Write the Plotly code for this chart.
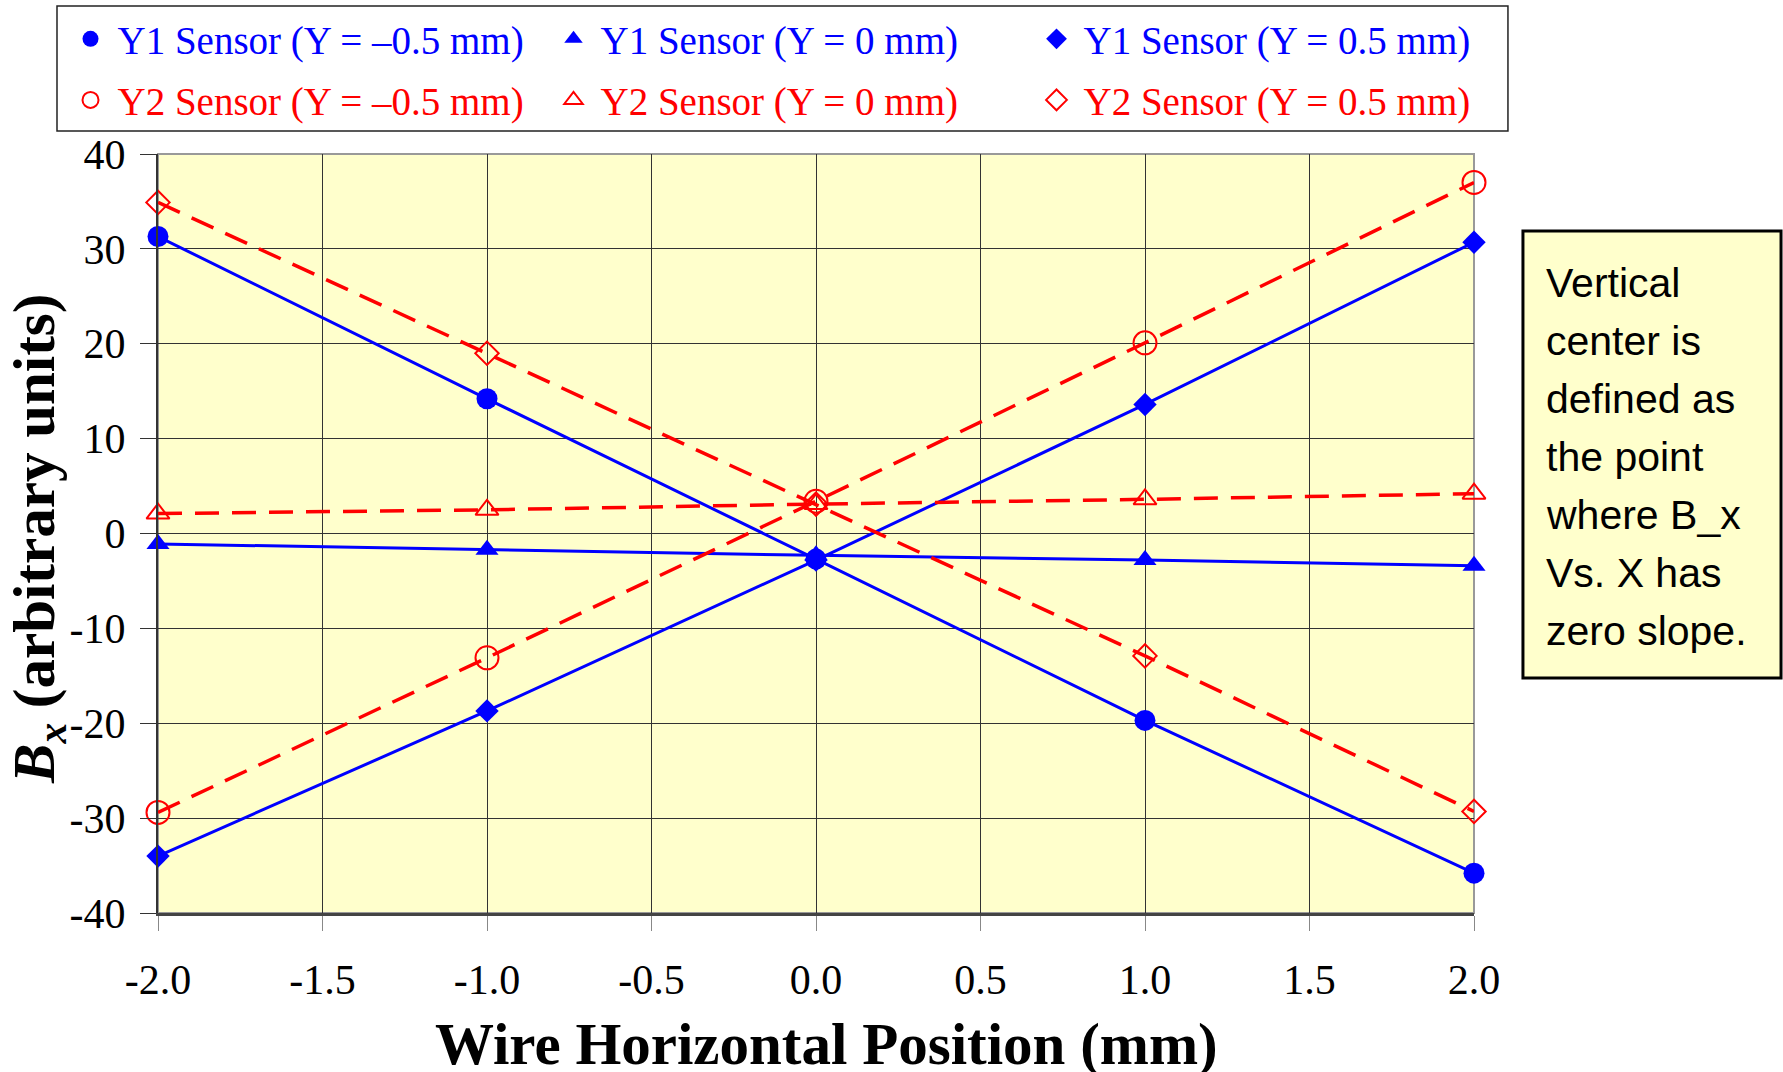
import plotly.graph_objects as go

# ---- data ----
x_pos = [-2.0, -1.0, 0.0, 1.0, 2.0]
y1_m05 = [31.3, 14.2, -2.7, -19.7, -35.8]
y1_0 = [-1.1, -1.7, -2.3, -2.8, -3.4]
y1_p05 = [-34.0, -18.7, -2.8, 13.6, 30.7]
y2_m05 = [-29.4, -13.1, 3.4, 20.1, 37.0]
y2_0 = [2.1, 2.5, 3.1, 3.6, 4.2]
y2_p05 = [34.9, 19.0, 3.1, -12.9, -29.3]

series_names = [
    "Y1 Sensor (Y = \u20130.5 mm)", "Y1 Sensor (Y = 0 mm)", "Y1 Sensor (Y = 0.5 mm)",
    "Y2 Sensor (Y = \u20130.5 mm)", "Y2 Sensor (Y = 0 mm)", "Y2 Sensor (Y = 0.5 mm)",
]
x_tickvals = [-2.0, -1.5, -1.0, -0.5, 0.0, 0.5, 1.0, 1.5, 2.0]
x_ticktext = ["-2.0", "-1.5", "-1.0", "-0.5", "0.0", "0.5", "1.0", "1.5", "2.0"]
y_tickvals = [-40, -30, -20, -10, 0, 10, 20, 30, 40]
y_ticktext = ["-40", "-30", "-20", "-10", "0", "10", "20", "30", "40"]
note_lines = ["Vertical", "center is", "defined as", "the point",
              "where B_x", "Vs. X has", "zero slope."]

SERIF = "Liberation Serif, Times New Roman, serif"
NOTE_FONT = "Liberation Sans Narrow, Arial Narrow, Liberation Sans, Arial, sans-serif"
BLUE = "#0000FF"
RED = "#FF0000"

specs = [
    (y1_m05, BLUE, "solid", 3, "circle", 21, "legend"),
    (y1_0, BLUE, "solid", 3, "triangle-up", 20, "legend"),
    (y1_p05, BLUE, "solid", 3, "diamond", 18, "legend"),
    (y2_m05, RED, "24px,13px", 3.5, "circle-open", 23, "legend2"),
    (y2_0, RED, "24px,13px", 3.5, "triangle-up-open", 20, "legend2"),
    (y2_p05, RED, "24px,13px", 3.5, "diamond-open", 18, "legend2"),
]

fig = go.Figure()
# lines first (no legend entries)
for vals, col, dash, lw, sym, ms, lg in specs:
    fig.add_trace(go.Scatter(
        x=x_pos, y=vals, mode="lines", showlegend=False,
        line=dict(color=col, width=lw, dash=dash), cliponaxis=False,
        hoverinfo="skip",
    ))
# markers on top (with legend entries)
for name, (vals, col, dash, lw, sym, ms, lg) in zip(series_names, specs):
    fig.add_trace(go.Scatter(
        x=x_pos, y=vals, mode="markers", name=name, legend=lg,
        marker=dict(symbol=sym, size=ms, color=col,
                    line=dict(color=col, width=2 if "open" in sym else 0)),
        cliponaxis=False,
    ))

legend_common = dict(
    orientation="h", xanchor="left", yanchor="middle",
    entrywidth=424, entrywidthmode="pixels", itemwidth=44,
    bgcolor="rgba(0,0,0,0)", borderwidth=0, traceorder="normal",
)

fig.update_layout(
    width=1783, height=1072,
    margin=dict(l=158, r=309, t=154, b=159, autoexpand=False),
    paper_bgcolor="white", plot_bgcolor="#FFFFCC",
    font=dict(family=SERIF, color="black"),
    legend=dict(x=-0.0718, y=1.1515, font=dict(family=SERIF, size=39, color=BLUE), **legend_common),
    legend2=dict(x=-0.0718, y=1.0711, font=dict(family=SERIF, size=39, color=RED), **legend_common),
    xaxis=dict(
        range=[-2, 2], tickvals=x_tickvals, ticktext=x_ticktext,
        showgrid=True, gridcolor="#333333", gridwidth=1,
        zeroline=False, showline=True, linecolor="#444444", linewidth=3,
        ticks="outside", ticklen=15, tickcolor="#888888", tickwidth=1,
        tickfont=dict(family=SERIF, size=42, color="black"),
        ticklabelstandoff=13,
    ),
    yaxis=dict(
        range=[-40, 40], tickvals=y_tickvals, ticktext=y_ticktext,
        showgrid=True, gridcolor="#333333", gridwidth=1,
        zeroline=False, showline=True, linecolor="#333333", linewidth=2,
        ticks="outside", ticklen=16, tickcolor="#333333", tickwidth=1,
        tickfont=dict(family=SERIF, size=42, color="black"),
        ticklabelstandoff=6,
    ),
    showlegend=True,
)

# plot-area frame (gray top/right edges)
fig.add_shape(type="rect", xref="paper", yref="paper", x0=0, x1=1, y0=0, y1=1,
              line=dict(color="#999999", width=2), layer="below")
# legend frame
fig.add_shape(type="rect", xref="paper", yref="paper",
              x0=-0.07675, x1=1.0258, y0=1.0303, y1=1.195,
              line=dict(color="#222222", width=1.5), fillcolor="white", layer="below")
# note box
fig.add_shape(type="rect", xref="paper", yref="paper",
              x0=1.0372, x1=1.2333, y0=0.3096, y1=0.8986,
              line=dict(color="black", width=3), fillcolor="#FFFFCC")
note_top_px = 283.0
note_step_px = 58.0
for i, line_txt in enumerate(note_lines):
    ypx = note_top_px + i * note_step_px
    fig.add_annotation(xref="paper", yref="paper", x=1.0532, y=(913 - ypx) / 759,
                       xanchor="left", yanchor="middle", align="left",
                       text=line_txt, showarrow=False,
                       font=dict(family=NOTE_FONT, size=41, color="black"))
# axis titles
fig.add_annotation(xref="paper", yref="paper", x=0.5076, y=-0.1725,
                   xanchor="center", yanchor="middle",
                   text="<b>Wire Horizontal Position (mm)</b>", showarrow=False,
                   font=dict(family=SERIF, size=59, color="black"))
fig.add_annotation(xref="paper", yref="paper", x=-0.0912, y=0.4928,
                   xanchor="center", yanchor="middle", textangle=-90,
                   text="<b><i>B</i><sub><i>x</i></sub> (arbitrary units)</b>", showarrow=False,
                   font=dict(family=SERIF, size=59, color="black"))

fig.write_html("out.html")
